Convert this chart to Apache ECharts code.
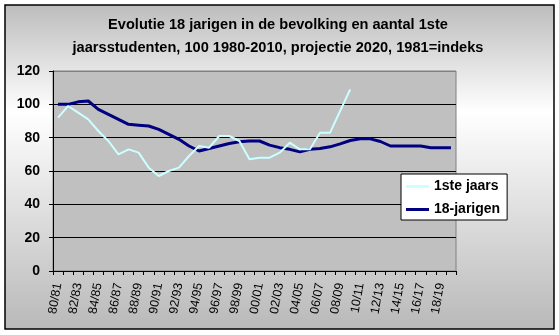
<!DOCTYPE html>
<html>
<head>
<meta charset="utf-8">
<script src="https://cdn.jsdelivr.net/npm/echarts@6/dist/echarts.min.js"></script>
<style>
html,body{margin:0;padding:0;background:#fff;}
#c{width:559px;height:335px;}
</style>
</head>
<body>
<div id="c"></div>
<script>
const categories = ['80/81','81/82','82/83','83/84','84/85','85/86','86/87','87/88','88/89','89/90',
  '90/91','91/92','92/93','93/94','94/95','95/96','96/97','97/98','98/99','99/00',
  '00/01','01/02','02/03','03/04','04/05','05/06','06/07','07/08','08/09','09/10',
  '10/11','11/12','12/13','13/14','14/15','15/16','16/17','17/18','18/19','19/20'];
const eersteJaars = [92, 99, 95, 91, 84, 78, 70, 73, 71, 62,
  57, 60, 62, 69, 75, 74, 81, 81, 78, 67,
  68, 68, 71, 77, 73, 73, 83, 83, 96, 109];
const achttienJarigen = [100, 100, 101.5, 102, 97, 94, 91, 88, 87.5, 87,
  85, 82, 79, 75, 72, 73.5, 75, 76.5, 77.5, 78,
  78, 75.5, 74, 73, 71.5, 73, 73.5, 74.5, 76.3, 78.3,
  79.3, 79.3, 77.7, 75, 75, 75, 75, 74, 74, 74];
const seriesNames = ['1ste jaars', '18-jarigen'];
const titleText = 'Evolutie 18 jarigen in de bevolking en aantal 1ste\njaarsstudenten, 100 1980-2010, projectie 2020, 1981=indeks';

const FONT = '"Liberation Sans", Arial, sans-serif';
const chart = echarts.init(document.getElementById('c'), null, {renderer: 'canvas'});
chart.setOption({
  animation: false,
  graphic: [
    {type: 'rect', z: -100, silent: true,
     shape: {x: 5, y: 5, width: 549, height: 324},
     style: {
       fill: new echarts.graphic.LinearGradient(0, 0, 0, 1, [
         {offset: 0, color: '#bdbdbd'},
         {offset: 0.33, color: '#ffffff'},
         {offset: 1, color: '#b9b9b9'}
       ]),
       stroke: null
     }},
    {type: 'rect', z: 100, silent: true,
     shape: {x: 5, y: 5, width: 549, height: 324},
     style: {fill: null, stroke: '#000', lineWidth: 1.5}}
  ],
  title: {
    text: titleText,
    left: 278, top: 13, padding: 0,
    textAlign: 'center',
    textStyle: {fontFamily: FONT, fontWeight: 'bold', fontSize: 14.6, color: '#000', lineHeight: 23}
  },
  legend: {
    orient: 'vertical',
    left: 401, top: 174,
    backgroundColor: '#fff',
    borderColor: '#000', borderWidth: 1, borderRadius: 0,
    padding: [5, 7, 3, 5],
    itemWidth: 23, itemHeight: 3, itemGap: 8,
    icon: 'rect',
    textStyle: {fontFamily: FONT, fontWeight: 'bold', fontSize: 14, color: '#000', lineHeight: 15},
    data: seriesNames
  },
  grid: {
    left: 53, right: 103, top: 71, bottom: 64,
    show: true, backgroundColor: '#c0c0c0', borderColor: '#808080', borderWidth: 1
  },
  xAxis: {
    type: 'category',
    data: categories,
    boundaryGap: true,
    axisLine: {lineStyle: {color: '#000', width: 1}},
    axisTick: {show: true, interval: 0, length: 4, lineStyle: {color: '#000'}},
    axisLabel: {interval: 1, rotate: 80, margin: 12, fontFamily: FONT, fontSize: 12.5, color: '#000'},
    splitLine: {show: false}
  },
  yAxis: {
    type: 'value',
    min: 0, max: 120, interval: 20,
    axisLine: {show: true, lineStyle: {color: '#000', width: 1}},
    axisTick: {show: true, length: 4, lineStyle: {color: '#000'}},
    axisLabel: {margin: 13, fontFamily: FONT, fontWeight: 'bold', fontSize: 14, color: '#000'},
    splitLine: {show: true, lineStyle: {color: ['#000','#000','#000','#000','#000','#000','#808080'], width: 1}}
  },
  series: [
    {name: seriesNames[0], type: 'line', data: eersteJaars, symbol: 'none',
     lineStyle: {color: '#ccffff', width: 2}, itemStyle: {color: '#ccffff'}, z: 3},
    {name: seriesNames[1], type: 'line', data: achttienJarigen, symbol: 'none',
     lineStyle: {color: '#000080', width: 3}, itemStyle: {color: '#000080'}, z: 2}
  ]
});
</script>
</body>
</html>
